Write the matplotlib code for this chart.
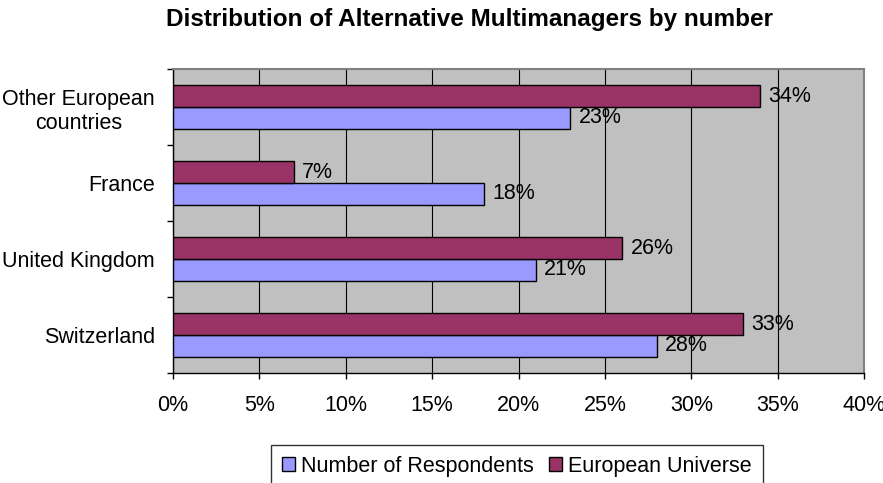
import matplotlib
matplotlib.use("Agg")
import matplotlib.pyplot as plt
import numpy as np
from matplotlib.ticker import FixedLocator

plt.rcParams['font.family'] = ['Liberation Sans', 'DejaVu Sans']

categories = ["Switzerland", "United Kingdom", "France", "Other European\ncountries"]
respondents = [28, 21, 18, 23]
universe = [33, 26, 7, 34]
series_names = ["Number of Respondents", "European Universe"]
xticks = [0, 5, 10, 15, 20, 25, 30, 35, 40]

fig = plt.figure(figsize=(8.83, 4.83), dpi=100)
ax = fig.add_axes([173/883, 1-373/483, (864-173)/883, (373-69)/483])
ax.set_facecolor('#C0C0C0')

y = np.arange(len(categories))
h = 0.285
b1 = ax.barh(y - h/2, respondents, height=h, color='#9999FF', edgecolor='black', linewidth=1, label=series_names[0], zorder=3)
b2 = ax.barh(y + h/2, universe, height=h, color='#993366', edgecolor='black', linewidth=1, label=series_names[1], zorder=3)

for bars, vals in ((b1, respondents), (b2, universe)):
    for bar, v in zip(bars, vals):
        ax.annotate(f"{v}%", (bar.get_width(), bar.get_y() + bar.get_height()/2),
                    xytext=(6, 0), textcoords='offset points', va='center', ha='left',
                    fontsize=15.5, zorder=5)

ax.set_xlim(0, 40)
ax.set_ylim(-0.5, len(categories) - 0.5)
ax.set_xticks(xticks)
ax.set_xticklabels([f"{t}%" for t in xticks], fontsize=15.5)
ax.xaxis.grid(True, color='black', linewidth=0.8, zorder=1)
ax.set_axisbelow(True)
ax.set_yticks(y)
ax.set_yticklabels(categories, fontsize=15.5)
for lbl in ax.get_yticklabels():
    lbl.set_multialignment('center')
ax.tick_params(axis='y', which='major', length=0, pad=13)
ax.yaxis.set_minor_locator(FixedLocator(np.arange(-0.5, len(categories), 1)))
ax.tick_params(axis='y', which='minor', length=4.5, width=1, direction='out', color='black')
ax.tick_params(axis='x', length=4.5, width=1, direction='out', pad=11)

for s in ('top', 'right'):
    ax.spines[s].set_color('#808080')
    ax.spines[s].set_linewidth(1.5)
for s in ('left', 'bottom'):
    ax.spines[s].set_color('black')
    ax.spines[s].set_linewidth(1)

fig.text(470/883, 1-26/483, "Distribution of Alternative Multimanagers by number",
         ha='center', va='baseline', fontsize=17.5, fontweight='bold')

leg = fig.legend(handles=[b1, b2], labels=series_names, loc='upper center', bbox_to_anchor=(517/883, 1-445/483),
                 ncol=2, fontsize=15.5, frameon=True, fancybox=False, edgecolor='black',
                 handlelength=0.6, handleheight=0.6, handletextpad=0.3, columnspacing=0.7,
                 borderpad=0.5, borderaxespad=0)
leg.get_frame().set_linewidth(1)

fig.savefig("out.png", dpi=100)
